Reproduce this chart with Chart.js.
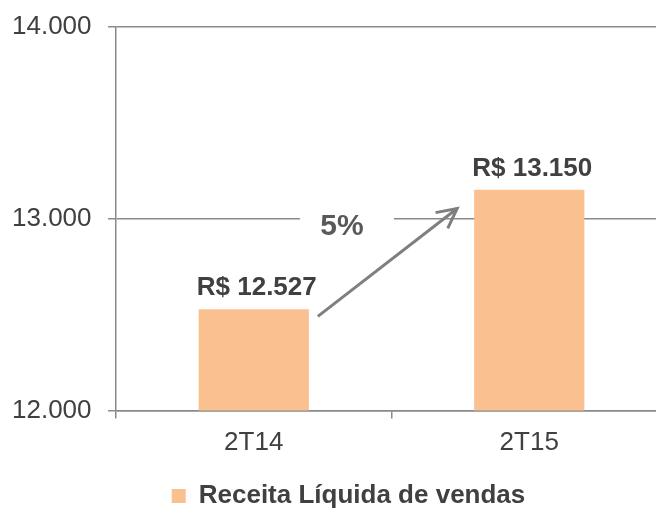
<!DOCTYPE html>
<html>
<head>
<meta charset="utf-8">
<script src="https://cdn.jsdelivr.net/npm/chart.js@4"></script>
<style>
  html, body { margin: 0; padding: 0; background: #ffffff; overflow: hidden; }
  #wrap { position: relative; width: 680px; height: 509px; }
</style>
</head>
<body>
<div id="wrap"><canvas id="c"></canvas></div>
<script>
const categories = ['2T14', '2T15'];
const receita = [12527, 13150];
const yTicks = [12000, 13000, 14000];
const seriesLabel = 'Receita Líquida de vendas';

const FONT = "'Liberation Sans', Arial, Helvetica, sans-serif";
const TXT = '#404040';
const GRID = '#8a8a8a';
const BAR = '#FAC090';

function fmt(v) {
  return String(Math.round(v)).replace(/\B(?=(\d{3})+(?!\d))/g, '.');
}

const annotPlugin = {
  id: 'annot',
  afterLayout(chart) {
    const lg = chart.legend;
    if (lg) { lg.left += 9; lg.right += 9; lg.top += 10; lg.bottom += 10; }
  },
  afterDatasetsDraw(chart) {
    const ctx = chart.ctx;
    const meta = chart.getDatasetMeta(0);
    const ys = chart.scales.y;
    const b1 = meta.data[0], b2 = meta.data[1];
    ctx.save();
    // value labels
    ctx.fillStyle = TXT;
    ctx.font = 'bold 26px ' + FONT;
    ctx.textAlign = 'center';
    ctx.textBaseline = 'middle';
    meta.data.forEach((bar, i) => {
      ctx.fillText('R$ ' + fmt(receita[i]), bar.x + 3, bar.y - 21);
    });
    // percent label with white background over gridline
    const pct = Math.round((receita[1] / receita[0] - 1) * 100) + '%';
    const r1 = b1.x + b1.width / 2, l2 = b2.x - b2.width / 2;
    const cx = r1 + (l2 - r1) * 0.2;
    const gy = ys.getPixelForValue(13000);
    ctx.fillStyle = '#ffffff';
    ctx.fillRect(cx - 42, gy - 6, 94, 12);
    ctx.fillStyle = '#595959';
    ctx.font = 'bold 30px ' + FONT;
    ctx.fillText(pct, cx, gy + 8);
    // arrow
    const sx = r1 + 9, sy = b1.y + 7;
    const ex = l2 - 17, ey = gy - 10;
    ctx.strokeStyle = '#7f7f7f';
    ctx.lineWidth = 3;
    ctx.lineCap = 'butt';
    ctx.beginPath();
    ctx.moveTo(sx, sy);
    ctx.lineTo(ex, ey);
    ctx.stroke();
    const ang = Math.atan2(sy - ey, sx - ex);
    const len = 22, spread = 0.47;
    ctx.beginPath();
    ctx.moveTo(ex + len * Math.cos(ang - spread), ey + len * Math.sin(ang - spread));
    ctx.lineTo(ex, ey);
    ctx.lineTo(ex + len * Math.cos(ang + spread), ey + len * Math.sin(ang + spread));
    ctx.stroke();
    ctx.restore();
  }
};

new Chart(document.getElementById('c'), {
  type: 'bar',
  data: {
    labels: categories,
    datasets: [{
      label: seriesLabel,
      data: receita,
      backgroundColor: BAR,
      borderWidth: 0,
      barPercentage: 0.4,
      categoryPercentage: 1.0
    }]
  },
  options: {
    responsive: true,
    maintainAspectRatio: false,
    animation: false,
    devicePixelRatio: 1,
    layout: { padding: { left: 12, right: 13, top: 26.5, bottom: 0 } },
    plugins: {
      tooltip: { enabled: false },
      legend: {
        position: 'bottom',
        align: 'center',
        labels: {
          boxWidth: 14,
          boxHeight: 14,
          padding: 0,
          color: TXT,
          font: { family: FONT, size: 26, weight: 'bold' }
        }
      }
    },
    scales: {
      x: {
        offset: true,
        grid: { display: true, drawOnChartArea: false, drawTicks: true, tickLength: 8, color: GRID, lineWidth: 1.5, offset: true },
        border: { display: true, color: GRID, width: 1.5 },
        ticks: { color: TXT, padding: 8.5, font: { family: FONT, size: 26 } },
        afterFit(scale) { scale.height = 62.5; }
      },
      y: {
        min: yTicks[0],
        max: yTicks[yTicks.length - 1],
        afterBuildTicks(scale) { scale.ticks = yTicks.map(v => ({ value: v })); },
        grid: { color: GRID, lineWidth: 1.5, drawTicks: true, tickLength: 8 },
        border: { display: true, color: GRID, width: 1.5 },
        ticks: {
          color: TXT,
          padding: 0,
          crossAlign: 'far',
          font: { family: FONT, size: 26 },
          callback: (v) => fmt(v)
        },
        afterFit(scale) { scale.width = 104; }
      }
    }
  },
  plugins: [annotPlugin]
});
</script>
</body>
</html>
